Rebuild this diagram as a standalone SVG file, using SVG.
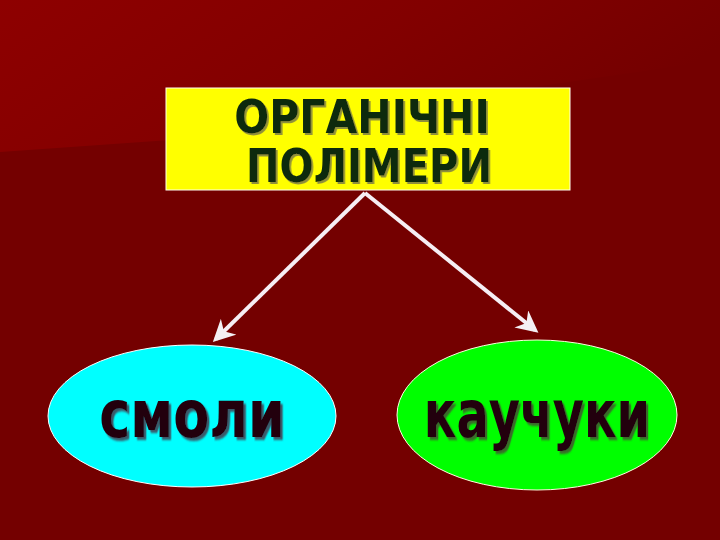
<svg xmlns="http://www.w3.org/2000/svg" width="720" height="540" viewBox="0 0 720 540">
  <defs>
    <linearGradient id="bgTop" x1="0" y1="0" x2="1" y2="0.3">
      <stop offset="0" stop-color="#8e0000"/>
      <stop offset="0.55" stop-color="#820000"/>
      <stop offset="1" stop-color="#740000"/>
    </linearGradient>
    <filter id="shadowY" x="-10%" y="-20%" width="120%" height="150%">
      <feDropShadow dx="2" dy="2" stdDeviation="0.6" flood-color="#8f8f3a" flood-opacity="1"/>
    </filter>
    <filter id="shadowC" x="-10%" y="-20%" width="120%" height="150%">
      <feDropShadow dx="3" dy="3" stdDeviation="0.8" flood-color="#3a5a6a" flood-opacity="1"/>
    </filter>
    <filter id="shadowG" x="-10%" y="-20%" width="120%" height="150%">
      <feDropShadow dx="3" dy="3" stdDeviation="0.8" flood-color="#3a6a2a" flood-opacity="1"/>
    </filter>
    <marker id="arrow" viewBox="0 0 10 10" refX="8" refY="5" markerWidth="5.5" markerHeight="5.5" orient="auto" markerUnits="strokeWidth">
      <path d="M0,0 L10,5 L0,10 L3,5 Z" fill="#f4f0f4"/>
    </marker>
  </defs>
  <style>
    .title { font-family: "DejaVu Sans", "Liberation Sans", sans-serif; font-weight: bold; font-size: 46px; text-anchor: middle; fill: #0d2a10; filter: url(#shadowY); }
    .label { font-family: "DejaVu Sans", "Liberation Sans", sans-serif; font-weight: bold; font-size: 66px; text-anchor: middle; fill: #200010; }
    .conn { stroke: #f6eef4; stroke-width: 4; fill: none; marker-end: url(#arrow); }
  </style>
  <rect width="720" height="540" fill="#740000"/>
  <path d="M0,0 H720 V60 L170,140 L0,152 Z" fill="url(#bgTop)"/>

  <g id="connectors">
    <line class="conn" x1="365" y1="193" x2="216" y2="339"/>
    <line class="conn" x1="365" y1="193" x2="535" y2="330"/>
  </g>

  <g id="node-polymers">
    <rect x="166" y="88" width="404" height="102" fill="#ffff00" stroke="#fffff0" stroke-width="1"/>
    <text class="title" transform="translate(362,133) scale(0.9,1)" textLength="284" lengthAdjust="spacingAndGlyphs">ОРГАНІЧНІ</text>
    <text class="title" transform="translate(369,182) scale(0.875,1)" textLength="281" lengthAdjust="spacingAndGlyphs">ПОЛІМЕРИ</text>
  </g>

  <g id="node-resins">
    <ellipse cx="192" cy="416" rx="144" ry="71" fill="#00ffff" stroke="#ffffff" stroke-width="1"/>
    <text class="label" transform="translate(192,437) scale(0.79,1)" filter="url(#shadowC)" textLength="235" lengthAdjust="spacingAndGlyphs">смоли</text>
  </g>

  <g id="node-rubbers">
    <ellipse cx="537" cy="415" rx="140" ry="75" fill="#00ff00" stroke="#ffffe0" stroke-width="1"/>
    <text class="label" transform="translate(537,437) scale(0.73,1)" filter="url(#shadowG)" textLength="310" lengthAdjust="spacingAndGlyphs">каучуки</text>
  </g>
</svg>
